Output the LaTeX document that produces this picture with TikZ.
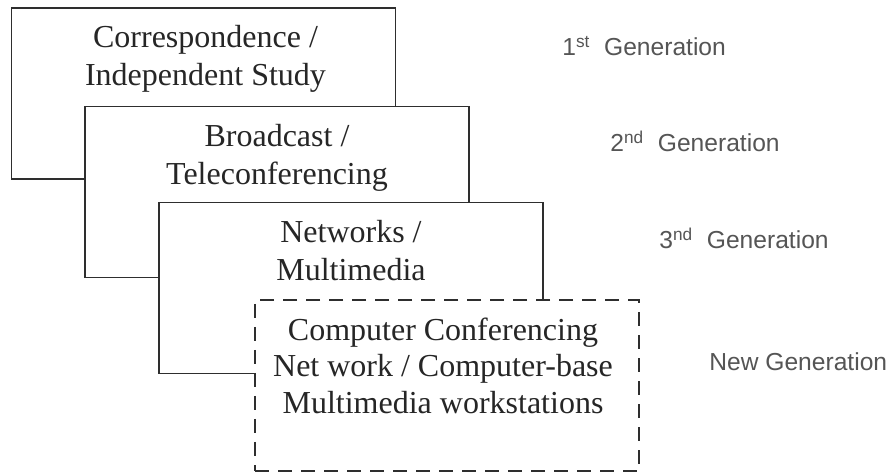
\documentclass[tikz,border=0pt]{standalone}
\usepackage{fontspec}
\setmainfont{Liberation Serif}
\newfontfamily\gensans{Liberation Sans}
\usetikzlibrary{positioning}
\definecolor{edgegray}{HTML}{2E2E2E}
\definecolor{labelgray}{HTML}{555555}

\begin{document}
\begin{tikzpicture}[x=0.5pt, y=-0.5pt,
    genbox/.style={rectangle, draw=edgegray, line width=0.75pt, fill=white,
        minimum width=192pt, minimum height=85.5pt, inner sep=0pt},
    newbox/.style={genbox, dash pattern=on 7pt off 4.5pt},
    boxtext/.style={align=center, inner sep=0pt, text=black!85,
        font=\fontsize{16}{19}\selectfont},
    genlabel/.style={anchor=base west, inner sep=0pt, text=labelgray,
        font=\gensans\fontsize{12.3}{14}\selectfont}]
    % white background
    \useasboundingbox (0,0) rectangle (892,474);
    \fill [white] (0,0) rectangle (892,474);
    % boxes, back to front
    \node (corr) [genbox] at (203.5,93.5) {};
    \node (corrtext) [boxtext, below=9pt of corr.north, xshift=1pt] {Correspondence /\\Independent Study};
    \node (broad) [genbox] at (277,192) {};
    \node (broadtext) [boxtext, below=9pt of broad.north] {Broadcast /\\Teleconferencing};
    \node (netw) [genbox] at (351,288) {};
    \node (netwtext) [boxtext, below=9pt of netw.north] {Networks /\\Multimedia};
    \node (comp) [newbox] at (447,385.5) {};
    \node (comptext) [boxtext, font=\fontsize{16}{18.3}\selectfont, below=9pt of comp.north, xshift=-2pt] {Computer Conferencing\\Net work / Computer-base\\Multimedia workstations};
    % generation labels
    \node (gen1) [genlabel] at (562,56) {1\textsuperscript{st}\ \ Generation};
    \node (gen2) [genlabel] at (610,152) {2\textsuperscript{nd}\ \ Generation};
    \node (gen3) [genlabel] at (659,249) {3\textsuperscript{nd}\ \ Generation};
    \node (gennew) [genlabel] at (709,371) {New Generation};
\end{tikzpicture}
\end{document}
